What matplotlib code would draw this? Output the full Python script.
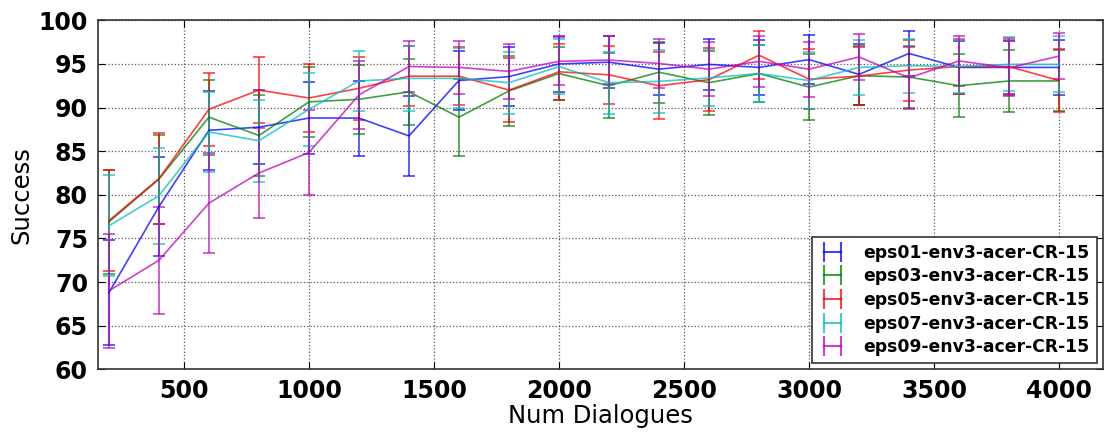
import matplotlib
matplotlib.use("Agg")
import matplotlib.pyplot as plt
from matplotlib.lines import Line2D
import numpy as np

num_dialogues = [200, 400, 600, 800, 1000, 1200, 1400, 1600, 1800, 2000,
                 2200, 2400, 2600, 2800, 3000, 3200, 3400, 3600, 3800, 4000]

labels = ["eps01-env3-acer-CR-15", "eps03-env3-acer-CR-15", "eps05-env3-acer-CR-15",
          "eps07-env3-acer-CR-15", "eps09-env3-acer-CR-15"]
colors = ["#0000ff", "#008000", "#ff0000", "#00bfbf", "#bf00bf"]

eps01_mean = [68.8, 78.65, 87.4, 87.75, 88.8, 88.8, 86.75, 93.1, 93.55, 95.0,
              95.2, 94.4, 94.95, 94.6, 95.5, 93.8, 96.2, 94.6, 94.6, 94.6]
eps01_err = [6.0, 5.7, 4.5, 4.25, 4.1, 4.3, 4.55, 3.4, 3.35, 3.2,
             3.0, 3.0, 2.95, 3.2, 2.8, 3.5, 2.6, 3.05, 3.0, 3.15]

eps03_mean = [76.9, 81.8, 88.9, 86.8, 90.65, 90.95, 91.8, 88.9, 91.9, 93.9,
              92.5, 94.05, 92.85, 93.9, 92.35, 93.65, 93.5, 92.5, 93.05, 93.05]
eps03_err = [6.0, 5.1, 4.3, 4.65, 4.0, 3.95, 3.75, 4.4, 4.0, 3.0,
             3.7, 3.5, 3.65, 3.3, 3.75, 3.35, 3.5, 3.6, 3.55, 3.5]

eps05_mean = [77.05, 81.85, 89.8, 92.0, 91.1, 92.2, 93.6, 93.6, 92.0, 94.1,
              93.75, 92.5, 93.2, 96.0, 93.25, 93.6, 94.3, 94.7, 94.7, 93.1]
eps05_err = [5.8, 5.2, 4.2, 3.75, 3.85, 3.6, 3.4, 3.3, 3.7, 3.2,
             3.35, 3.85, 3.6, 2.75, 3.45, 3.3, 3.5, 3.2, 3.3, 3.65]

eps07_mean = [76.45, 79.9, 87.2, 86.2, 89.8, 93.05, 93.35, 93.35, 92.85, 94.7,
              92.85, 93.0, 93.4, 93.9, 93.1, 94.6, 94.8, 94.7, 94.95, 94.95]
eps07_err = [5.8, 5.5, 4.6, 4.7, 4.2, 3.4, 3.7, 3.45, 3.55, 3.2,
             3.55, 3.6, 3.2, 3.3, 3.3, 3.2, 3.1, 3.0, 3.1, 3.2]

eps09_mean = [69.0, 72.5, 79.05, 82.5, 84.85, 91.45, 94.7, 94.6, 94.15, 95.3,
              95.45, 95.05, 94.4, 95.3, 94.4, 95.8, 93.4, 95.35, 94.55, 95.9]
eps09_err = [6.5, 6.1, 5.7, 5.2, 4.85, 3.9, 2.95, 3.05, 3.15, 2.75,
             2.75, 2.85, 3.1, 2.9, 3.15, 2.6, 3.55, 2.85, 3.2, 2.6]

means = [eps01_mean, eps03_mean, eps05_mean, eps07_mean, eps09_mean]
errs = [eps01_err, eps03_err, eps05_err, eps07_err, eps09_err]

plt.rcParams["font.family"] = ["DejaVu Sans"]
plt.rcParams["xtick.direction"] = "in"
plt.rcParams["ytick.direction"] = "in"

fig = plt.figure(figsize=(11.05, 4.32), dpi=100)
ax = fig.add_axes([0.0884, 0.145, 0.9096, 0.808])

ALPHA = 0.75
handles = []
for mean, err, col, lab in zip(means, errs, colors, labels):
    ax.errorbar(num_dialogues, mean, yerr=err, color=col,
                linewidth=1.2, elinewidth=1.2, capsize=4, capthick=1.2,
                alpha=ALPHA)
    handles.append(Line2D([], [], color=col, linewidth=1.5, marker="|",
                          markersize=14, markeredgewidth=1.5, alpha=ALPHA,
                          label=lab))

ax.set_xlim(155, 4175)
ax.set_ylim(60, 100)
ax.set_xticks([500, 1000, 1500, 2000, 2500, 3000, 3500, 4000])
ax.set_yticks(np.arange(60, 101, 5))
ax.grid(True, color="0.35", linestyle=":", linewidth=0.9)
ax.tick_params(axis="both", which="major", labelsize=17, length=5, width=0.8,
               top=True, right=True, pad=7)
for lbl in ax.get_xticklabels() + ax.get_yticklabels():
    lbl.set_fontweight("bold")

ax.set_xlabel("Num Dialogues", fontsize=17.5, labelpad=1)
ax.set_ylabel("Success", fontsize=17.5, labelpad=4)
for sp in ax.spines.values():
    sp.set_linewidth(1.2)
    sp.set_color("0.2")

leg = ax.legend(handles=handles, loc="lower right", numpoints=2,
                prop={"weight": "bold", "size": 12.4},
                fancybox=False, framealpha=1, edgecolor="0.2",
                handlelength=1.6, handletextpad=1.0, labelspacing=0.33,
                borderaxespad=0.35)
leg.get_frame().set_linewidth(1.2)

fig.savefig("out.png", dpi=100)
